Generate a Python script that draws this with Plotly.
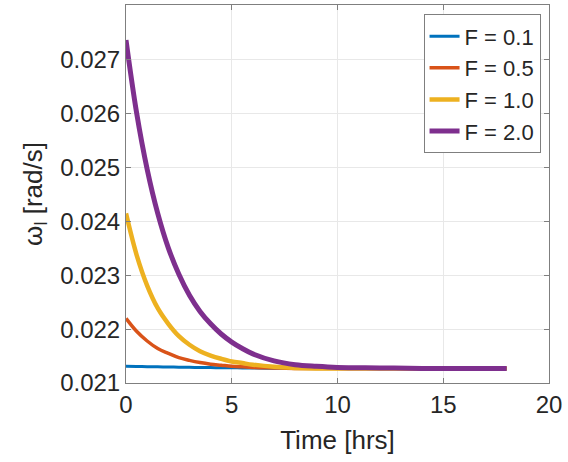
import plotly.graph_objects as go

# Time samples [hrs]
time_hrs = [0, 0.5, 1, 1.5, 2, 2.5, 3, 3.5, 4, 4.5, 5, 5.5, 6, 7, 8, 9, 10, 12, 14, 16, 18]

# Angular rate omega_l [rad/s] for each forcing level F
omega_f01 = [0.021310, 0.021307, 0.021303, 0.021300, 0.021297, 0.021294, 0.021291, 0.021288,
             0.021286, 0.021284, 0.021282, 0.021280, 0.021278, 0.021275, 0.021273, 0.021271,
             0.021270, 0.021270, 0.021270, 0.021270, 0.021270]
omega_f05 = [0.02220, 0.02196, 0.02178, 0.02164, 0.02155, 0.02147, 0.02142, 0.02138, 0.02135,
             0.02133, 0.02131, 0.02130, 0.02129, 0.02128, 0.02127, 0.02127, 0.02127, 0.02127,
             0.02127, 0.02127, 0.02127]
omega_f10 = [0.02415, 0.02338, 0.02281, 0.02239, 0.02210, 0.02187, 0.02171, 0.02159, 0.02151,
             0.02145, 0.02140, 0.02137, 0.02134, 0.02130, 0.02128, 0.02127, 0.02127, 0.02127,
             0.02127, 0.02127, 0.02127]
omega_f20 = [0.02737, 0.02602, 0.02497, 0.02415, 0.02351, 0.02302, 0.02263, 0.02233, 0.02210,
             0.02191, 0.02176, 0.02164, 0.02154, 0.02141, 0.02134, 0.02131, 0.02129, 0.02128,
             0.02127, 0.02127, 0.02127]

series_names = ["F = 0.1", "F = 0.5", "F = 1.0", "F = 2.0"]
series_values = [omega_f01, omega_f05, omega_f10, omega_f20]
series_colors = ["#0072BD", "#D95319", "#EDB120", "#7E2F8E"]
series_widths = [3, 3.5, 4.5, 5]

x_ticks = [0, 5, 10, 15, 20]
y_ticks = [0.021, 0.022, 0.023, 0.024, 0.025, 0.026, 0.027]

FONT = "Liberation Sans, Arial, Helvetica, sans-serif"
TEXT = "#262626"
AXIS = "#7f7f7f"
GRID = "#e8e8e8"

fig = go.Figure()
for name, vals, col, w in zip(series_names, series_values, series_colors, series_widths):
    fig.add_trace(go.Scatter(
        x=time_hrs, y=vals, mode="lines", name=name,
        line=dict(color=col, width=w, shape="spline", smoothing=1.0),
    ))

axis_common = dict(
    showline=True, linecolor=AXIS, linewidth=1, mirror="ticks",
    ticks="inside", ticklen=5, tickcolor=AXIS,
    showgrid=True, gridcolor=GRID, gridwidth=1,
    zeroline=False,
    tickfont=dict(family=FONT, size=24, color=TEXT),
)

fig.update_layout(
    width=568, height=462,
    margin=dict(l=126, r=19, t=5, b=79),
    paper_bgcolor="white", plot_bgcolor="white",
    font=dict(family=FONT, color=TEXT),
    xaxis=dict(
        range=[0, 20], tickvals=x_ticks, ticktext=[str(v) for v in x_ticks],
        title=dict(text="Time [hrs]", font=dict(family=FONT, size=26, color=TEXT), standoff=14),
        **axis_common,
    ),
    yaxis=dict(
        range=[0.021, 0.02802], tickvals=y_ticks, ticktext=[f"{v:.3f}" for v in y_ticks],
        title=dict(text="ω<sub>l</sub> [rad/s]", font=dict(family=FONT, size=26, color=TEXT), standoff=10),
        **axis_common,
    ),
    legend=dict(
        x=0.98, y=0.975, xanchor="right", yanchor="top",
        bgcolor="white", bordercolor=AXIS, borderwidth=1,
        font=dict(family=FONT, size=22, color=TEXT),
        itemwidth=30, tracegroupgap=0,
    ),
    showlegend=True,
)

fig.write_html("out.html")
